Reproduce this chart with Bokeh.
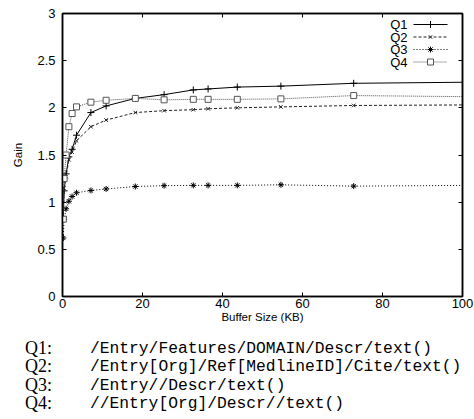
from bokeh.plotting import figure
from bokeh.layouts import column
from bokeh.models import Range1d, LinearAxis, FixedTicker, Label, Div
from bokeh.embed import file_html
from bokeh.resources import INLINE

# Buffer sizes (KB) at which the gain was measured
buffer_kb = [0.2, 0.4, 0.9, 1.6, 2.4, 3.5, 7.1, 10.9, 18.2, 25.4, 32.7, 36.4,
             43.7, 54.6, 72.8, 145.6]

# Gain per query
gain_q1 = [0.84, 1.12, 1.30, 1.48, 1.56, 1.71, 1.95, 2.02, 2.10, 2.14, 2.19,
           2.20, 2.22, 2.23, 2.26, 2.29]
gain_q2 = [0.83, 1.15, 1.27, 1.45, 1.53, 1.65, 1.80, 1.87, 1.95, 1.97, 1.98,
           1.99, 2.00, 2.01, 2.025, 2.04]
gain_q3 = [0.62, 0.82, 0.93, 1.01, 1.06, 1.10, 1.124, 1.14, 1.166, 1.175,
           1.178, 1.178, 1.178, 1.184, 1.17, 1.19]
gain_q4 = [0.82, 1.25, 1.50, 1.80, 1.94, 2.01, 2.06, 2.08, 2.10, 2.085, 2.09,
           2.09, 2.09, 2.095, 2.13, 2.10]

queries = ["Q1", "Q2", "Q3", "Q4"]
query_paths = [
    "/Entry/Features/DOMAIN/Descr/text()",
    "/Entry[Org]/Ref[MedlineID]/Cite/text()",
    "/Entry//Descr/text()",
    "//Entry[Org]/Descr//text()",
]

x_ticks = [0, 20, 40, 60, 80, 100]
y_ticks = [0, 0.5, 1, 1.5, 2, 2.5, 3]

# Chart geometry in pixels
W = 474
H_CHART, H_NOTES = 330, 89
LEFT, RIGHT, TOP, BOTTOM = 62, 12, 13, 34
FRAME_W = W - LEFT - RIGHT
FRAME_H = H_CHART - TOP - BOTTOM
X0, X1, Y0, Y1 = 0, 100, 0, 3

SANS = "Liberation Sans"

p = figure(width=W, height=H_CHART, x_range=Range1d(X0, X1),
           y_range=Range1d(Y0, Y1), output_backend="svg",
           toolbar_location=None,
           min_border_left=LEFT, min_border_right=RIGHT,
           min_border_top=TOP, min_border_bottom=BOTTOM,
           x_axis_label="Buffer Size (KB)", y_axis_label="Gain")
p.xgrid.grid_line_color = None
p.ygrid.grid_line_color = None
p.outline_line_color = "black"
p.outline_line_width = 1.5
p.background_fill_color = "white"
p.border_fill_color = "white"


def style_axis(ax, ticks, show_labels):
    ax.ticker = FixedTicker(ticks=ticks)
    ax.major_tick_in = 4
    ax.major_tick_out = 0
    ax.major_tick_line_color = "black"
    ax.minor_tick_line_color = None
    ax.axis_line_color = "black"
    ax.axis_line_width = 1.5
    ax.major_label_text_font = SANS
    ax.major_label_text_font_size = "13px"
    ax.major_label_text_color = "black"
    ax.axis_label_text_font = SANS
    ax.axis_label_text_font_style = "normal"
    ax.axis_label_text_font_size = "11.5px"
    ax.axis_label_text_color = "black"
    if not show_labels:
        ax.major_label_overrides = {t: "" for t in ticks}


style_axis(p.xaxis[0], x_ticks, True)
style_axis(p.yaxis[0], y_ticks, True)
p.xaxis[0].major_label_standoff = 2
p.xaxis[0].axis_label_standoff = 0
p.yaxis[0].major_label_standoff = 7
p.yaxis[0].axis_label_standoff = 10

top_axis = LinearAxis()
style_axis(top_axis, x_ticks, False)
p.add_layout(top_axis, "above")
right_axis = LinearAxis()
style_axis(right_axis, y_ticks, False)
p.add_layout(right_axis, "right")

series = [
    (gain_q1, "solid", "cross", "black", 7),
    (gain_q2, "3 2", "x", "#222222", 5),
    (gain_q3, "1 2", "asterisk", "black", 6),
    (gain_q4, "1 1", "square", "#555555", 6),
]

for ys, dash, marker, color, size in series:
    p.line(buffer_kb, ys, line_color=color, line_width=1, line_dash=dash)
    p.scatter(buffer_kb, ys, marker=marker, size=size, line_color=color,
              fill_color="white", line_width=1)


def px_x(px):
    return X0 + (px - LEFT) / FRAME_W * (X1 - X0)


def px_y(py):
    return Y0 + (TOP + FRAME_H - py) / FRAME_H * (Y1 - Y0)


# Key in the upper right corner: label, then line sample with its marker
key_rows = [24, 36.5, 49, 61.5]
for (ys, dash, marker, color, size), name, row in zip(series, queries, key_rows):
    yk = px_y(row)
    p.line([px_x(413), px_x(447)], [yk, yk], line_color=color, line_width=1,
           line_dash=dash)
    p.scatter([px_x(430)], [yk], marker=marker, size=size, line_color=color,
              fill_color="white", line_width=1)
    p.add_layout(Label(x=px_x(407), y=yk, text=name, text_align="right",
                       text_baseline="middle", text_font=SANS,
                       text_font_size="13px", text_color="black"))

# Query definitions under the chart
text_rows = [348.8, 366.9, 385.0, 403.1]
LINE_H = 17
spans = []
for name, path, row in zip(queries, query_paths, text_rows):
    top = row - H_CHART - LINE_H / 2
    spans.append(
        f'<span style="position:absolute;left:25px;top:{top:.1f}px;'
        f"height:{LINE_H}px;line-height:{LINE_H}px;"
        f"font-family:'Liberation Serif';font-size:18px;"
        f'color:black;white-space:pre">{name}:</span>')
    spans.append(
        f'<span style="position:absolute;left:90px;top:{top:.1f}px;'
        f"height:{LINE_H}px;line-height:{LINE_H}px;"
        f"font-family:'Liberation Mono';font-size:16.3px;"
        f'color:black;white-space:pre">{path}</span>')

notes = Div(text=(f'<div style="position:relative;width:{W}px;'
                  f'height:{H_NOTES}px;background:white">'
                  + "".join(spans) + "</div>"),
            width=W, height=H_NOTES, margin=0)

layout = column(p, notes, spacing=0)
open("out.html", "w").write(file_html(layout, INLINE))
